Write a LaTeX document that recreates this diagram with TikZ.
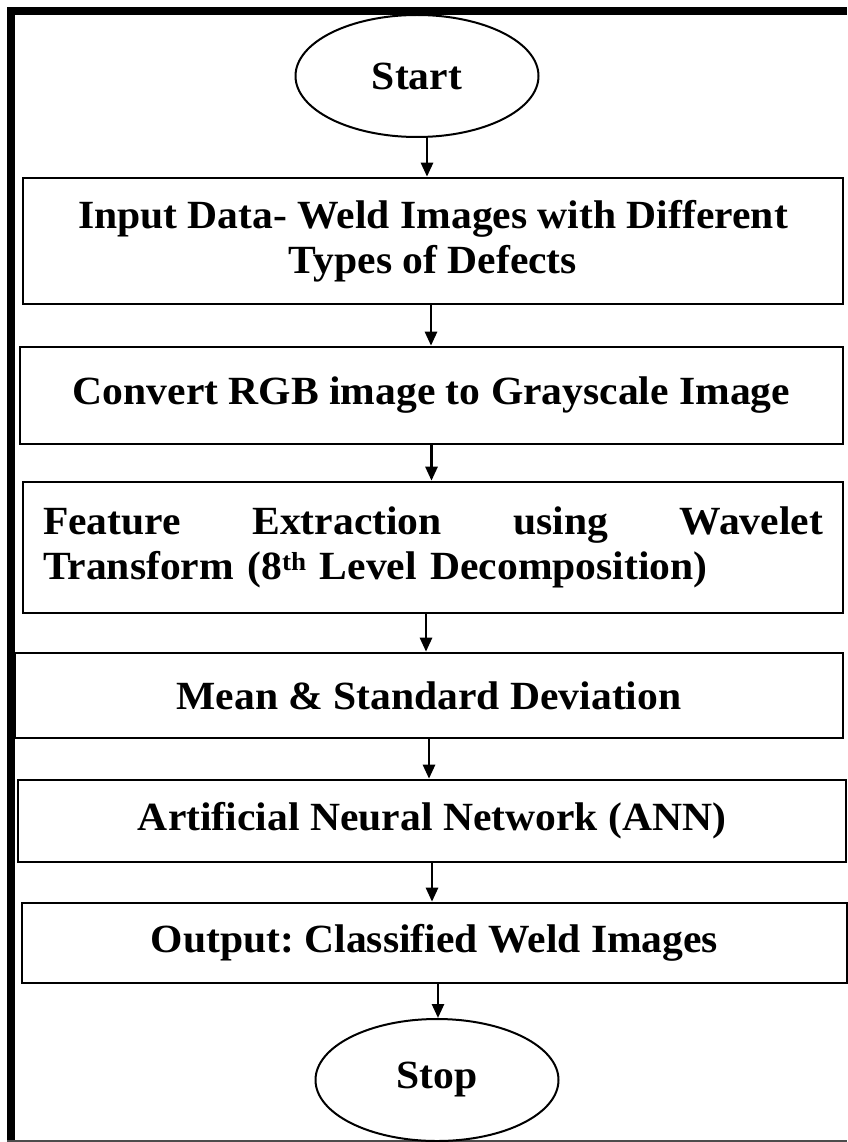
\documentclass[tikz,border=0pt]{standalone}
\usepackage{fontspec}
\setmainfont{Liberation Serif}[FakeStretch=1.04]
\usepackage{tikz}
\usetikzlibrary{shapes.geometric, arrows.meta}
\frenchspacing

\begin{document}
\begin{tikzpicture}[x=1pt, y=-1pt, font=\fontsize{40}{45}\selectfont\bfseries,
    box/.style={draw, line width=2.6pt, rectangle, fill=white, inner sep=0pt, align=center},
    oval/.style={draw, line width=2pt, ellipse, minimum width=243pt, minimum height=122pt, inner sep=0pt},
    flow/.style={line width=2.6pt, -{Triangle[length=14pt, width=12pt]}}]

    % 1. Page and frame (left and top edges are heavy)
    \useasboundingbox (0,0) rectangle (847,1142);
    \fill[white] (0,0) rectangle (847,1142);
    \draw[line width=8pt] (11,1142) -- (11,11) -- (847,11);
    \draw[line width=1.5pt, black!70] (7,1141) -- (847,1141);

    % 2. Terminals
    \node[oval] (start) at (417,76) {Start};
    \node[oval] (stop) at (437,1080) {\raisebox{6pt}{Stop}};

    % 3. Process boxes
    \node[box, minimum width=820pt, minimum height=126pt] (input) at (433,241)
        {Input Data- Weld Images with Different\\Types of Defects};
    \node[box, minimum width=823pt, minimum height=97pt] (gray) at (431.5,395.5)
        {Convert RGB image to Grayscale Image};
    \node[box, minimum width=820pt, minimum height=131pt, text width=780pt, align=left] (feat) at (433,547.5)
        {Feature\hfill Extraction\hfill using\hfill Wavelet\\Transform (8\textsuperscript{\fontsize{26}{26}\selectfont th} Level Decomposition)};
    \node[box, minimum width=828pt, minimum height=85pt] (stats) at (429,695.5)
        {Mean \& Standard Deviation};
    \node[box, minimum width=828pt, minimum height=82pt] (ann) at (432,821)
        {Artificial Neural Network (ANN)};
    \node[box, minimum width=825pt, minimum height=80pt] (output) at (434.5,943)
        {Output: Classified Weld Images};

    % 4. Arrows (slightly off centre, as in the sketch)
    \draw[flow] ([xshift=10pt]start.south) -- ([xshift=10pt]start.south |- input.north);
    \draw[flow] ([xshift=-2pt]input.south) -- ([xshift=-2pt]input.south |- gray.north);
    \draw[flow] (gray.south) -- (gray.south |- feat.north);
    \draw[flow] ([xshift=-7pt]feat.south) -- ([xshift=-7pt]feat.south |- stats.north);
    \draw[flow] (stats.south) -- (stats.south |- ann.north);
    \draw[flow] (ann.south) -- (ann.south |- output.north);
    \draw[flow] ([xshift=3.5pt]output.south) -- ([xshift=3.5pt]output.south |- stop.north);

\end{tikzpicture}
\end{document}
